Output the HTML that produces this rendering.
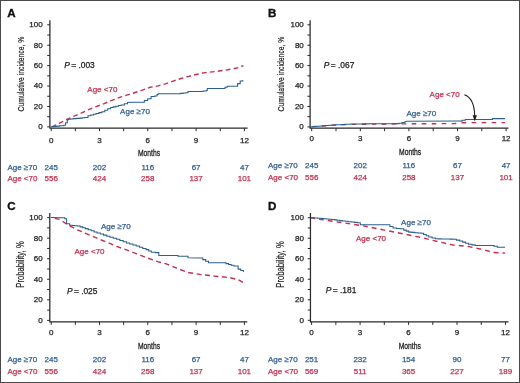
<!DOCTYPE html>
<html><head><meta charset="utf-8"><style>
html,body{margin:0;padding:0;background:#fff;}
body{width:520px;height:383px;overflow:hidden;}
svg{display:block;filter:blur(0.38px);}
svg text{font-family:"Liberation Sans", sans-serif;}
</style></head><body>
<svg width="520" height="383" viewBox="0 0 520 383">
<rect x="0" y="0" width="520" height="383" fill="#fff"/>
<text x="7.3" y="17" font-size="11.6" fill="#111" text-anchor="start" font-weight="bold" stroke="#111" stroke-width="0.35"  >A</text>
<path d="M49.9 20.3 V128.2 H247.6" stroke="#2a2a2a" stroke-width="1.25" fill="none"/>
<path d="M47.2 126.9 H49.9 M47.2 116.69 H49.9 M47.2 106.48 H49.9 M47.2 96.27 H49.9 M47.2 86.06 H49.9 M47.2 75.85 H49.9 M47.2 65.64 H49.9 M47.2 55.43 H49.9 M47.2 45.22 H49.9 M47.2 35.01 H49.9 M47.2 24.8 H49.9 M51.2 128.2 V131.2 M75.35 128.2 V131.2 M99.5 128.2 V131.2 M123.65 128.2 V131.2 M147.8 128.2 V131.2 M171.95 128.2 V131.2 M196.1 128.2 V131.2 M220.25 128.2 V131.2 M244.4 128.2 V131.2" stroke="#2a2a2a" stroke-width="1" fill="none"/>
<text x="42.7" y="129.3" font-size="8" fill="#222" text-anchor="end" font-weight="normal" stroke="#222" stroke-width="0.25" letter-spacing="0" >0</text>
<text x="42.7" y="108.88" font-size="8" fill="#222" text-anchor="end" font-weight="normal" stroke="#222" stroke-width="0.25" letter-spacing="0" >20</text>
<text x="42.7" y="88.46" font-size="8" fill="#222" text-anchor="end" font-weight="normal" stroke="#222" stroke-width="0.25" letter-spacing="0" >40</text>
<text x="42.7" y="68.04" font-size="8" fill="#222" text-anchor="end" font-weight="normal" stroke="#222" stroke-width="0.25" letter-spacing="0" >60</text>
<text x="42.7" y="47.62" font-size="8" fill="#222" text-anchor="end" font-weight="normal" stroke="#222" stroke-width="0.25" letter-spacing="0" >80</text>
<text x="42.7" y="27.2" font-size="8" fill="#222" text-anchor="end" font-weight="normal" stroke="#222" stroke-width="0.25" letter-spacing="0" >100</text>
<text x="51.2" y="142.6" font-size="8" fill="#222" text-anchor="middle" font-weight="normal" stroke="#222" stroke-width="0.25" letter-spacing="0" >0</text>
<text x="99.5" y="142.6" font-size="8" fill="#222" text-anchor="middle" font-weight="normal" stroke="#222" stroke-width="0.25" letter-spacing="0" >3</text>
<text x="147.8" y="142.6" font-size="8" fill="#222" text-anchor="middle" font-weight="normal" stroke="#222" stroke-width="0.25" letter-spacing="0" >6</text>
<text x="196.1" y="142.6" font-size="8" fill="#222" text-anchor="middle" font-weight="normal" stroke="#222" stroke-width="0.25" letter-spacing="0" >9</text>
<text x="244.4" y="142.6" font-size="8" fill="#222" text-anchor="middle" font-weight="normal" stroke="#222" stroke-width="0.25" letter-spacing="0" >12</text>
<text transform="translate(149 156.2) scale(0.72 1)" font-size="9.4" fill="#222" stroke="#222" stroke-width="0.3" text-anchor="middle">Months</text>
<text transform="translate(24 74) rotate(-90) scale(0.72 1)" font-size="9.5" stroke="#222" stroke-width="0.2" fill="#222" text-anchor="middle">Cumulative incidence, %</text>
<text x="64.2" y="68.3" font-size="8.4" fill="#222" stroke="#222" stroke-width="0.25"><tspan font-style="italic">P</tspan><tspan dx="-0.9"> =</tspan> .003</text>
<path d="M51 126.7 L53.5 126.1 L67.3 119.2 L74.8 115.8 L81.7 112.9 L89.2 109.4 L96.1 106.6 L104.2 103.6 L110.6 100.8 L121.2 96.9 L131.7 93.6 L142.3 90.2 L150 87.3 L158 85.9 L165.6 83.8 L173 81.1 L181 78.5 L189 76.3 L197 74.2 L205 72.6 L214.8 71.6 L224.3 70.3 L232.3 69 L238.6 67.6 L243.4 65.6" stroke="#c62e4e" stroke-width="1.4" fill="none" stroke-dasharray="4.8 3.2" stroke-dashoffset="7.39"/>
<path d="M51 126.7 L53.93 126.7 L53.93 126.4 L56.87 126.4 L56.87 126.1 L59.8 126.1 L59.8 125.8 L63.8 125.8 L63.8 125.2 L65.6 125.2 L65.6 122.7 L67.3 122.7 L67.3 119.8 L68.5 119.8 L68.5 119.2 L70.75 119.2 L70.75 118.9 L73 118.9 L73 118.6 L76.5 118.6 L76.5 118.35 L80 118.35 L80 118.1 L82.3 118.1 L82.3 117.8 L84.6 117.8 L84.6 117.5 L88 117.5 L88 115.8 L90.7 115.8 L90.7 115.03 L93.4 115.03 L93.4 114.27 L96.1 114.27 L96.1 113.5 L99 113.5 L99 112.6 L101.9 112.6 L101.9 111.7 L104.8 111.7 L104.8 110.25 L107.7 110.25 L107.7 108.8 L110.6 108.8 L110.6 107.5 L113.25 107.5 L113.25 106.85 L115.9 106.85 L115.9 106.2 L118.55 106.2 L118.55 105.55 L121.2 105.55 L121.2 104.9 L124.35 104.9 L124.35 103.7 L127.5 103.7 L127.5 102.5 L130.7 102.3 L140.8 102.3 L144.4 102.3 L144.4 100.5 L147.7 100.5 L147.7 98.8 L151.1 98.8 L151.1 96.5 L154.6 96.5 L154.6 96 L157 96 L157 94.5 L158.1 94.5 L158.1 93.8 L177.5 93.7 L180.33 93.7 L180.33 93.38 L183.17 93.38 L183.17 93.07 L186 93.07 L186 92.75 L188 92.75 L188 91.5 L200 91.4 L203.15 91.4 L203.15 90.9 L206.3 90.9 L206.3 90.4 L207.3 90.4 L207.3 88.5 L223 88.5 L225 88.5 L225 87.2 L227.1 87.2 L227.1 86.2 L234.4 86.2 L237.6 86.2 L237.6 83.6 L240.2 83.6 L240.2 81 L242.8 81 L242.8 80.1" stroke="#2d5f8c" stroke-width="1.05" fill="none" stroke-linejoin="miter"/>
<text x="87.3" y="92.3" font-size="8" fill="#c22f4e" text-anchor="start" font-weight="normal" stroke="#c22f4e" stroke-width="0.25" letter-spacing="0" >Age &lt;70</text>
<text x="120.1" y="114" font-size="8" fill="#2e5d8e" text-anchor="start" font-weight="normal" stroke="#2e5d8e" stroke-width="0.25" letter-spacing="0" >Age ≥70</text>
<text x="7.4" y="169.6" font-size="8" fill="#2e5d8e" text-anchor="start" font-weight="normal" stroke="#2e5d8e" stroke-width="0.25" letter-spacing="0" >Age ≥70</text>
<text x="7.4" y="181.4" font-size="8" fill="#c22f4e" text-anchor="start" font-weight="normal" stroke="#c22f4e" stroke-width="0.25" letter-spacing="0" >Age &lt;70</text>
<text x="51.2" y="169.6" font-size="8" fill="#2e5d8e" text-anchor="middle" font-weight="normal" stroke="#2e5d8e" stroke-width="0.25" letter-spacing="0" >245</text>
<text x="51.2" y="181.4" font-size="8" fill="#c22f4e" text-anchor="middle" font-weight="normal" stroke="#c22f4e" stroke-width="0.25" letter-spacing="0" >556</text>
<text x="99.5" y="169.6" font-size="8" fill="#2e5d8e" text-anchor="middle" font-weight="normal" stroke="#2e5d8e" stroke-width="0.25" letter-spacing="0" >202</text>
<text x="99.5" y="181.4" font-size="8" fill="#c22f4e" text-anchor="middle" font-weight="normal" stroke="#c22f4e" stroke-width="0.25" letter-spacing="0" >424</text>
<text x="147.8" y="169.6" font-size="8" fill="#2e5d8e" text-anchor="middle" font-weight="normal" stroke="#2e5d8e" stroke-width="0.25" letter-spacing="0" >116</text>
<text x="147.8" y="181.4" font-size="8" fill="#c22f4e" text-anchor="middle" font-weight="normal" stroke="#c22f4e" stroke-width="0.25" letter-spacing="0" >258</text>
<text x="196.1" y="169.6" font-size="8" fill="#2e5d8e" text-anchor="middle" font-weight="normal" stroke="#2e5d8e" stroke-width="0.25" letter-spacing="0" >67</text>
<text x="196.1" y="181.4" font-size="8" fill="#c22f4e" text-anchor="middle" font-weight="normal" stroke="#c22f4e" stroke-width="0.25" letter-spacing="0" >137</text>
<text x="244.4" y="169.6" font-size="8" fill="#2e5d8e" text-anchor="middle" font-weight="normal" stroke="#2e5d8e" stroke-width="0.25" letter-spacing="0" >47</text>
<text x="244.4" y="181.4" font-size="8" fill="#c22f4e" text-anchor="middle" font-weight="normal" stroke="#c22f4e" stroke-width="0.25" letter-spacing="0" >101</text>
<text x="268" y="17" font-size="11.6" fill="#111" text-anchor="start" font-weight="bold" stroke="#111" stroke-width="0.35"  >B</text>
<path d="M310.1 20.3 V128.2 H508.5" stroke="#2a2a2a" stroke-width="1.25" fill="none"/>
<path d="M307.4 126.9 H310.1 M307.4 116.69 H310.1 M307.4 106.48 H310.1 M307.4 96.27 H310.1 M307.4 86.06 H310.1 M307.4 75.85 H310.1 M307.4 65.64 H310.1 M307.4 55.43 H310.1 M307.4 45.22 H310.1 M307.4 35.01 H310.1 M307.4 24.8 H310.1 M311.7 128.2 V131.2 M336 128.2 V131.2 M360.3 128.2 V131.2 M384.6 128.2 V131.2 M408.9 128.2 V131.2 M433.2 128.2 V131.2 M457.5 128.2 V131.2 M481.8 128.2 V131.2 M506.1 128.2 V131.2" stroke="#2a2a2a" stroke-width="1" fill="none"/>
<text x="303.8" y="129.3" font-size="8" fill="#222" text-anchor="end" font-weight="normal" stroke="#222" stroke-width="0.25" letter-spacing="0" >0</text>
<text x="303.8" y="108.88" font-size="8" fill="#222" text-anchor="end" font-weight="normal" stroke="#222" stroke-width="0.25" letter-spacing="0" >20</text>
<text x="303.8" y="88.46" font-size="8" fill="#222" text-anchor="end" font-weight="normal" stroke="#222" stroke-width="0.25" letter-spacing="0" >40</text>
<text x="303.8" y="68.04" font-size="8" fill="#222" text-anchor="end" font-weight="normal" stroke="#222" stroke-width="0.25" letter-spacing="0" >60</text>
<text x="303.8" y="47.62" font-size="8" fill="#222" text-anchor="end" font-weight="normal" stroke="#222" stroke-width="0.25" letter-spacing="0" >80</text>
<text x="303.8" y="27.2" font-size="8" fill="#222" text-anchor="end" font-weight="normal" stroke="#222" stroke-width="0.25" letter-spacing="0" >100</text>
<text x="311.7" y="141.3" font-size="8" fill="#222" text-anchor="middle" font-weight="normal" stroke="#222" stroke-width="0.25" letter-spacing="0" >0</text>
<text x="360.3" y="141.3" font-size="8" fill="#222" text-anchor="middle" font-weight="normal" stroke="#222" stroke-width="0.25" letter-spacing="0" >3</text>
<text x="408.9" y="141.3" font-size="8" fill="#222" text-anchor="middle" font-weight="normal" stroke="#222" stroke-width="0.25" letter-spacing="0" >6</text>
<text x="457.5" y="141.3" font-size="8" fill="#222" text-anchor="middle" font-weight="normal" stroke="#222" stroke-width="0.25" letter-spacing="0" >9</text>
<text x="506.1" y="141.3" font-size="8" fill="#222" text-anchor="middle" font-weight="normal" stroke="#222" stroke-width="0.25" letter-spacing="0" >12</text>
<text transform="translate(410.1 155) scale(0.72 1)" font-size="9.4" fill="#222" stroke="#222" stroke-width="0.3" text-anchor="middle">Months</text>
<text transform="translate(284 74) rotate(-90) scale(0.72 1)" font-size="9.5" stroke="#222" stroke-width="0.2" fill="#222" text-anchor="middle">Cumulative incidence, %</text>
<text x="323.8" y="68.4" font-size="8.4" fill="#222" stroke="#222" stroke-width="0.25"><tspan font-style="italic">P</tspan><tspan dx="-0.9"> =</tspan> .067</text>
<path d="M311 126.7 L332 125.3 L350.8 124.4 L397 123.9 L455 123.6 L458 122.7 L505 122.6" stroke="#c62e4e" stroke-width="1.4" fill="none" stroke-dasharray="4.6 5.4" stroke-dashoffset="9.23"/>
<path d="M311 126.7 L314 126.7 L314 126.46 L317 126.46 L317 126.21 L320 126.21 L320 125.97 L323 125.97 L323 125.73 L326 125.73 L326 125.49 L329 125.49 L329 125.24 L332 125.24 L332 125 L335.13 125 L335.13 124.83 L338.27 124.83 L338.27 124.67 L341.4 124.67 L341.4 124.5 L344.53 124.5 L344.53 124.33 L347.67 124.33 L347.67 124.17 L350.8 124.17 L350.8 124 L353.88 124 L353.88 123.97 L356.96 123.97 L356.96 123.95 L360.04 123.95 L360.04 123.92 L363.12 123.92 L363.12 123.89 L366.2 123.89 L366.2 123.87 L369.28 123.87 L369.28 123.84 L372.36 123.84 L372.36 123.81 L375.44 123.81 L375.44 123.79 L378.52 123.79 L378.52 123.76 L381.6 123.76 L381.6 123.73 L384.68 123.73 L384.68 123.71 L387.76 123.71 L387.76 123.68 L390.84 123.68 L390.84 123.65 L393.92 123.65 L393.92 123.63 L397 123.63 L397 123.6 L399 123.6 L399 123.2 L402 123.2 L402 122.4 L405 122.4 L405 121.6 L407 121.3 L458.8 121.1 L462 121.1 L462 120.2 L465.3 120.2 L465.3 119.4 L492 119.4 L492.5 119.4 L492.5 118.6 L505 118.6" stroke="#2d5f8c" stroke-width="1.05" fill="none" stroke-linejoin="miter"/>
<text x="429.6" y="96.6" font-size="8" fill="#c22f4e" text-anchor="start" font-weight="normal" stroke="#c22f4e" stroke-width="0.25" letter-spacing="0" >Age &lt;70</text>
<text x="406.5" y="115.9" font-size="8" fill="#2e5d8e" text-anchor="start" font-weight="normal" stroke="#2e5d8e" stroke-width="0.25" letter-spacing="0" >Age ≥70</text>
<text x="268" y="168.1" font-size="8" fill="#2e5d8e" text-anchor="start" font-weight="normal" stroke="#2e5d8e" stroke-width="0.25" letter-spacing="0" >Age ≥70</text>
<text x="268" y="179.5" font-size="8" fill="#c22f4e" text-anchor="start" font-weight="normal" stroke="#c22f4e" stroke-width="0.25" letter-spacing="0" >Age &lt;70</text>
<text x="311.7" y="168.1" font-size="8" fill="#2e5d8e" text-anchor="middle" font-weight="normal" stroke="#2e5d8e" stroke-width="0.25" letter-spacing="0" >245</text>
<text x="311.7" y="179.5" font-size="8" fill="#c22f4e" text-anchor="middle" font-weight="normal" stroke="#c22f4e" stroke-width="0.25" letter-spacing="0" >556</text>
<text x="360.3" y="168.1" font-size="8" fill="#2e5d8e" text-anchor="middle" font-weight="normal" stroke="#2e5d8e" stroke-width="0.25" letter-spacing="0" >202</text>
<text x="360.3" y="179.5" font-size="8" fill="#c22f4e" text-anchor="middle" font-weight="normal" stroke="#c22f4e" stroke-width="0.25" letter-spacing="0" >424</text>
<text x="408.9" y="168.1" font-size="8" fill="#2e5d8e" text-anchor="middle" font-weight="normal" stroke="#2e5d8e" stroke-width="0.25" letter-spacing="0" >116</text>
<text x="408.9" y="179.5" font-size="8" fill="#c22f4e" text-anchor="middle" font-weight="normal" stroke="#c22f4e" stroke-width="0.25" letter-spacing="0" >258</text>
<text x="457.5" y="168.1" font-size="8" fill="#2e5d8e" text-anchor="middle" font-weight="normal" stroke="#2e5d8e" stroke-width="0.25" letter-spacing="0" >67</text>
<text x="457.5" y="179.5" font-size="8" fill="#c22f4e" text-anchor="middle" font-weight="normal" stroke="#c22f4e" stroke-width="0.25" letter-spacing="0" >137</text>
<text x="506.1" y="168.1" font-size="8" fill="#2e5d8e" text-anchor="middle" font-weight="normal" stroke="#2e5d8e" stroke-width="0.25" letter-spacing="0" >47</text>
<text x="506.1" y="179.5" font-size="8" fill="#c22f4e" text-anchor="middle" font-weight="normal" stroke="#c22f4e" stroke-width="0.25" letter-spacing="0" >101</text>
<path d="M464.4 94.8 C469.6 96.6 474.4 102 474.7 115.8" stroke="#1a1a1a" stroke-width="1.1" fill="none"/><path d="M472.6 115.2 L476.9 115.2 L474.8 121.2 Z" fill="#1a1a1a"/>
<text x="7.2" y="209.8" font-size="11.6" fill="#111" text-anchor="start" font-weight="bold" stroke="#111" stroke-width="0.35"  >C</text>
<path d="M49.8 212.9 V321.9 H247.3" stroke="#2a2a2a" stroke-width="1.25" fill="none"/>
<path d="M47.1 320.4 H49.8 M47.1 310.12 H49.8 M47.1 299.84 H49.8 M47.1 289.56 H49.8 M47.1 279.28 H49.8 M47.1 269 H49.8 M47.1 258.72 H49.8 M47.1 248.44 H49.8 M47.1 238.16 H49.8 M47.1 227.88 H49.8 M47.1 217.6 H49.8 M51.2 321.9 V324.9 M75.35 321.9 V324.9 M99.5 321.9 V324.9 M123.65 321.9 V324.9 M147.8 321.9 V324.9 M171.95 321.9 V324.9 M196.1 321.9 V324.9 M220.25 321.9 V324.9 M244.4 321.9 V324.9" stroke="#2a2a2a" stroke-width="1" fill="none"/>
<text x="42.6" y="322.9" font-size="8" fill="#222" text-anchor="end" font-weight="normal" stroke="#222" stroke-width="0.25" letter-spacing="0" >0</text>
<text x="42.6" y="302.34" font-size="8" fill="#222" text-anchor="end" font-weight="normal" stroke="#222" stroke-width="0.25" letter-spacing="0" >20</text>
<text x="42.6" y="281.78" font-size="8" fill="#222" text-anchor="end" font-weight="normal" stroke="#222" stroke-width="0.25" letter-spacing="0" >40</text>
<text x="42.6" y="261.22" font-size="8" fill="#222" text-anchor="end" font-weight="normal" stroke="#222" stroke-width="0.25" letter-spacing="0" >60</text>
<text x="42.6" y="240.66" font-size="8" fill="#222" text-anchor="end" font-weight="normal" stroke="#222" stroke-width="0.25" letter-spacing="0" >80</text>
<text x="42.6" y="220.1" font-size="8" fill="#222" text-anchor="end" font-weight="normal" stroke="#222" stroke-width="0.25" letter-spacing="0" >100</text>
<text x="51.2" y="334.5" font-size="8" fill="#222" text-anchor="middle" font-weight="normal" stroke="#222" stroke-width="0.25" letter-spacing="0" >0</text>
<text x="99.5" y="334.5" font-size="8" fill="#222" text-anchor="middle" font-weight="normal" stroke="#222" stroke-width="0.25" letter-spacing="0" >3</text>
<text x="147.8" y="334.5" font-size="8" fill="#222" text-anchor="middle" font-weight="normal" stroke="#222" stroke-width="0.25" letter-spacing="0" >6</text>
<text x="196.1" y="334.5" font-size="8" fill="#222" text-anchor="middle" font-weight="normal" stroke="#222" stroke-width="0.25" letter-spacing="0" >9</text>
<text x="244.4" y="334.5" font-size="8" fill="#222" text-anchor="middle" font-weight="normal" stroke="#222" stroke-width="0.25" letter-spacing="0" >12</text>
<text transform="translate(149 348.7) scale(0.72 1)" font-size="9.4" fill="#222" stroke="#222" stroke-width="0.3" text-anchor="middle">Months</text>
<text transform="translate(23.6 264.5) rotate(-90) scale(0.7 1)" font-size="11" stroke="#222" stroke-width="0.2" fill="#222" text-anchor="middle">Probability, %</text>
<text x="66.9" y="293.7" font-size="8.4" fill="#222" stroke="#222" stroke-width="0.25"><tspan font-style="italic">P</tspan><tspan dx="-0.9"> =</tspan> .025</text>
<path d="M51 217.6 L59.8 219.4 L67.6 224.7 L77.4 229.8 L97 238.2 L116.6 246.3 L136.2 253.6 L145 257.1 L157.7 261.7 L166.2 263.8 L176.7 268.1 L187.3 272.3 L200 274.4 L214.8 276.1 L229.6 277.6 L238.1 279.7 L243.4 282.5" stroke="#c62e4e" stroke-width="1.4" fill="none" stroke-dasharray="5 3.5" stroke-dashoffset="4.71"/>
<path d="M51 217.6 L61.7 217.8 L64.7 217.8 L64.7 218.8 L66.6 218.8 L66.6 223.7 L69.6 223.7 L69.6 225.3 L72.2 225.3 L72.2 225.53 L74.8 225.53 L74.8 225.77 L77.4 225.77 L77.4 226 L80.03 226 L80.03 226.87 L82.67 226.87 L82.67 227.73 L85.3 227.73 L85.3 228.6 L88.22 228.6 L88.22 229.7 L91.15 229.7 L91.15 230.8 L94.08 230.8 L94.08 231.9 L97 231.9 L97 233 L100.27 233 L100.27 234.07 L103.53 234.07 L103.53 235.13 L106.8 235.13 L106.8 236.2 L110.07 236.2 L110.07 237.2 L113.33 237.2 L113.33 238.2 L116.6 238.2 L116.6 239.2 L119.87 239.2 L119.87 240.47 L123.13 240.47 L123.13 241.73 L126.4 241.73 L126.4 243 L129.67 243 L129.67 244 L132.93 244 L132.93 245 L136.2 245 L136.2 246 L139.47 246 L139.47 247.2 L142.73 247.2 L142.73 248.4 L146 248.4 L146 249.6 L148.65 249.6 L148.65 250.9 L151.3 250.9 L151.3 252.2 L155.6 252.2 L155.6 252.6 L158.8 252.6 L158.8 255.4 L177 255.5 L178 255.5 L178 256.3 L186 256.3 L188 256.3 L188 257.8 L200 258 L202.83 258 L202.83 259.6 L205.67 259.6 L205.67 261.2 L208.5 261.2 L208.5 262.8 L223.3 262.8 L225.95 262.8 L225.95 263.6 L228.6 263.6 L228.6 264.4 L231.25 264.4 L231.25 265.2 L233.9 265.2 L233.9 266 L238.1 266 L238.1 269.1 L240.75 269.1 L240.75 270.5 L243.4 270.5 L243.4 271.9" stroke="#2d5f8c" stroke-width="1.05" fill="none" stroke-linejoin="miter"/>
<text x="74.5" y="253.6" font-size="8" fill="#c22f4e" text-anchor="start" font-weight="normal" stroke="#c22f4e" stroke-width="0.25" letter-spacing="0" >Age &lt;70</text>
<text x="101" y="229" font-size="8" fill="#2e5d8e" text-anchor="start" font-weight="normal" stroke="#2e5d8e" stroke-width="0.25" letter-spacing="0" >Age ≥70</text>
<text x="7.4" y="361.6" font-size="8" fill="#2e5d8e" text-anchor="start" font-weight="normal" stroke="#2e5d8e" stroke-width="0.25" letter-spacing="0" >Age ≥70</text>
<text x="7.4" y="373.7" font-size="8" fill="#c22f4e" text-anchor="start" font-weight="normal" stroke="#c22f4e" stroke-width="0.25" letter-spacing="0" >Age &lt;70</text>
<text x="51.2" y="361.6" font-size="8" fill="#2e5d8e" text-anchor="middle" font-weight="normal" stroke="#2e5d8e" stroke-width="0.25" letter-spacing="0" >245</text>
<text x="51.2" y="373.7" font-size="8" fill="#c22f4e" text-anchor="middle" font-weight="normal" stroke="#c22f4e" stroke-width="0.25" letter-spacing="0" >556</text>
<text x="99.5" y="361.6" font-size="8" fill="#2e5d8e" text-anchor="middle" font-weight="normal" stroke="#2e5d8e" stroke-width="0.25" letter-spacing="0" >202</text>
<text x="99.5" y="373.7" font-size="8" fill="#c22f4e" text-anchor="middle" font-weight="normal" stroke="#c22f4e" stroke-width="0.25" letter-spacing="0" >424</text>
<text x="147.8" y="361.6" font-size="8" fill="#2e5d8e" text-anchor="middle" font-weight="normal" stroke="#2e5d8e" stroke-width="0.25" letter-spacing="0" >116</text>
<text x="147.8" y="373.7" font-size="8" fill="#c22f4e" text-anchor="middle" font-weight="normal" stroke="#c22f4e" stroke-width="0.25" letter-spacing="0" >258</text>
<text x="196.1" y="361.6" font-size="8" fill="#2e5d8e" text-anchor="middle" font-weight="normal" stroke="#2e5d8e" stroke-width="0.25" letter-spacing="0" >67</text>
<text x="196.1" y="373.7" font-size="8" fill="#c22f4e" text-anchor="middle" font-weight="normal" stroke="#c22f4e" stroke-width="0.25" letter-spacing="0" >137</text>
<text x="244.4" y="361.6" font-size="8" fill="#2e5d8e" text-anchor="middle" font-weight="normal" stroke="#2e5d8e" stroke-width="0.25" letter-spacing="0" >47</text>
<text x="244.4" y="373.7" font-size="8" fill="#c22f4e" text-anchor="middle" font-weight="normal" stroke="#c22f4e" stroke-width="0.25" letter-spacing="0" >101</text>
<text x="268" y="209.8" font-size="11.6" fill="#111" text-anchor="start" font-weight="bold" stroke="#111" stroke-width="0.35"  >D</text>
<path d="M310.45 212.9 V321.9 H508.5" stroke="#2a2a2a" stroke-width="1.25" fill="none"/>
<path d="M307.75 320.3 H310.45 M307.75 310.04 H310.45 M307.75 299.78 H310.45 M307.75 289.52 H310.45 M307.75 279.26 H310.45 M307.75 269 H310.45 M307.75 258.74 H310.45 M307.75 248.48 H310.45 M307.75 238.22 H310.45 M307.75 227.96 H310.45 M307.75 217.7 H310.45 M311.6 321.9 V324.9 M335.84 321.9 V324.9 M360.08 321.9 V324.9 M384.32 321.9 V324.9 M408.56 321.9 V324.9 M432.8 321.9 V324.9 M457.04 321.9 V324.9 M481.28 321.9 V324.9 M505.52 321.9 V324.9" stroke="#2a2a2a" stroke-width="1" fill="none"/>
<text x="303.95" y="322.8" font-size="8" fill="#222" text-anchor="end" font-weight="normal" stroke="#222" stroke-width="0.25" letter-spacing="0" >0</text>
<text x="303.95" y="302.28" font-size="8" fill="#222" text-anchor="end" font-weight="normal" stroke="#222" stroke-width="0.25" letter-spacing="0" >20</text>
<text x="303.95" y="281.76" font-size="8" fill="#222" text-anchor="end" font-weight="normal" stroke="#222" stroke-width="0.25" letter-spacing="0" >40</text>
<text x="303.95" y="261.24" font-size="8" fill="#222" text-anchor="end" font-weight="normal" stroke="#222" stroke-width="0.25" letter-spacing="0" >60</text>
<text x="303.95" y="240.72" font-size="8" fill="#222" text-anchor="end" font-weight="normal" stroke="#222" stroke-width="0.25" letter-spacing="0" >80</text>
<text x="303.95" y="220.2" font-size="8" fill="#222" text-anchor="end" font-weight="normal" stroke="#222" stroke-width="0.25" letter-spacing="0" >100</text>
<text x="311.6" y="334.8" font-size="8" fill="#222" text-anchor="middle" font-weight="normal" stroke="#222" stroke-width="0.25" letter-spacing="0" >0</text>
<text x="360.08" y="334.8" font-size="8" fill="#222" text-anchor="middle" font-weight="normal" stroke="#222" stroke-width="0.25" letter-spacing="0" >3</text>
<text x="408.56" y="334.8" font-size="8" fill="#222" text-anchor="middle" font-weight="normal" stroke="#222" stroke-width="0.25" letter-spacing="0" >6</text>
<text x="457.04" y="334.8" font-size="8" fill="#222" text-anchor="middle" font-weight="normal" stroke="#222" stroke-width="0.25" letter-spacing="0" >9</text>
<text x="505.52" y="334.8" font-size="8" fill="#222" text-anchor="middle" font-weight="normal" stroke="#222" stroke-width="0.25" letter-spacing="0" >12</text>
<text transform="translate(409.76 348.7) scale(0.72 1)" font-size="9.4" fill="#222" stroke="#222" stroke-width="0.3" text-anchor="middle">Months</text>
<text transform="translate(283.6 264.5) rotate(-90) scale(0.7 1)" font-size="11" stroke="#222" stroke-width="0.2" fill="#222" text-anchor="middle">Probability, %</text>
<text x="325.8" y="292.8" font-size="8.4" fill="#222" stroke="#222" stroke-width="0.25"><tspan font-style="italic">P</tspan><tspan dx="-0.9"> =</tspan> .181</text>
<path d="M311 217.8 L321.2 219.5 L342.3 222.7 L363.5 225.9 L384.6 230.1 L400 233.2 L422.1 237.7 L439.8 242.1 L453.1 245 L468.6 246.5 L484 249.8 L492.9 252.5 L505.1 253.1" stroke="#c62e4e" stroke-width="1.4" fill="none" stroke-dasharray="4.9 4" stroke-dashoffset="0.83"/>
<path d="M311 217.8 L314.4 217.8 L314.4 218.03 L317.8 218.03 L317.8 218.27 L321.2 218.27 L321.2 218.5 L323.82 218.5 L323.82 218.75 L326.45 218.75 L326.45 219 L329.07 219 L329.07 219.25 L331.7 219.25 L331.7 219.5 L334.35 219.5 L334.35 219.88 L337 219.88 L337 220.25 L339.65 220.25 L339.65 220.62 L342.3 220.62 L342.3 221 L345.26 221 L345.26 221.34 L348.22 221.34 L348.22 221.68 L351.18 221.68 L351.18 222.02 L354.14 222.02 L354.14 222.36 L357.1 222.36 L357.1 222.7 L360.3 222.7 L360.3 224.8 L386.7 224.8 L389.9 224.8 L389.9 226.4 L393.1 226.4 L393.1 228 L396.55 228 L396.55 228.4 L400 228.4 L400 228.8 L403.7 228.8 L403.7 230.1 L406.25 230.1 L406.25 231.1 L408.8 231.1 L408.8 232.1 L411.85 232.1 L411.85 232.38 L414.9 232.38 L414.9 232.65 L417.95 232.65 L417.95 232.92 L421 232.92 L421 233.2 L423.6 233.2 L423.6 234.47 L426.2 234.47 L426.2 235.73 L428.8 235.73 L428.8 237 L432.1 237 L432.1 237.9 L435.4 237.9 L435.4 238.8 L438.35 238.8 L438.35 238.87 L441.3 238.87 L441.3 238.93 L444.25 238.93 L444.25 239 L447.2 239 L447.2 239.07 L450.15 239.07 L450.15 239.13 L453.1 239.13 L453.1 239.2 L456.4 239.2 L456.4 240.1 L459.7 240.1 L459.7 241 L462.67 241 L462.67 242.1 L465.63 242.1 L465.63 243.2 L468.6 243.2 L468.6 244.3 L471.9 244.3 L471.9 244.85 L475.2 244.85 L475.2 245.4 L490.7 245.4 L494 245.4 L494 246.3 L497.3 246.3 L497.3 247.2 L505.1 247.2" stroke="#2d5f8c" stroke-width="1.05" fill="none" stroke-linejoin="miter"/>
<text x="356" y="241" font-size="8" fill="#c22f4e" text-anchor="start" font-weight="normal" stroke="#c22f4e" stroke-width="0.25" letter-spacing="0" >Age &lt;70</text>
<text x="401.1" y="224.9" font-size="8" fill="#2e5d8e" text-anchor="start" font-weight="normal" stroke="#2e5d8e" stroke-width="0.25" letter-spacing="0" >Age ≥70</text>
<text x="268" y="361.6" font-size="8" fill="#2e5d8e" text-anchor="start" font-weight="normal" stroke="#2e5d8e" stroke-width="0.25" letter-spacing="0" >Age ≥70</text>
<text x="268" y="373.5" font-size="8" fill="#c22f4e" text-anchor="start" font-weight="normal" stroke="#c22f4e" stroke-width="0.25" letter-spacing="0" >Age &lt;70</text>
<text x="311.6" y="361.6" font-size="8" fill="#2e5d8e" text-anchor="middle" font-weight="normal" stroke="#2e5d8e" stroke-width="0.25" letter-spacing="0" >251</text>
<text x="311.6" y="373.5" font-size="8" fill="#c22f4e" text-anchor="middle" font-weight="normal" stroke="#c22f4e" stroke-width="0.25" letter-spacing="0" >569</text>
<text x="360.08" y="361.6" font-size="8" fill="#2e5d8e" text-anchor="middle" font-weight="normal" stroke="#2e5d8e" stroke-width="0.25" letter-spacing="0" >232</text>
<text x="360.08" y="373.5" font-size="8" fill="#c22f4e" text-anchor="middle" font-weight="normal" stroke="#c22f4e" stroke-width="0.25" letter-spacing="0" >511</text>
<text x="408.56" y="361.6" font-size="8" fill="#2e5d8e" text-anchor="middle" font-weight="normal" stroke="#2e5d8e" stroke-width="0.25" letter-spacing="0" >154</text>
<text x="408.56" y="373.5" font-size="8" fill="#c22f4e" text-anchor="middle" font-weight="normal" stroke="#c22f4e" stroke-width="0.25" letter-spacing="0" >365</text>
<text x="457.04" y="361.6" font-size="8" fill="#2e5d8e" text-anchor="middle" font-weight="normal" stroke="#2e5d8e" stroke-width="0.25" letter-spacing="0" >90</text>
<text x="457.04" y="373.5" font-size="8" fill="#c22f4e" text-anchor="middle" font-weight="normal" stroke="#c22f4e" stroke-width="0.25" letter-spacing="0" >227</text>
<text x="505.52" y="361.6" font-size="8" fill="#2e5d8e" text-anchor="middle" font-weight="normal" stroke="#2e5d8e" stroke-width="0.25" letter-spacing="0" >77</text>
<text x="505.52" y="373.5" font-size="8" fill="#c22f4e" text-anchor="middle" font-weight="normal" stroke="#c22f4e" stroke-width="0.25" letter-spacing="0" >189</text>
<rect x="0.5" y="0.5" width="519" height="382" fill="none" stroke="#4a4a4a" stroke-width="1"/>
</svg>
</body></html>
